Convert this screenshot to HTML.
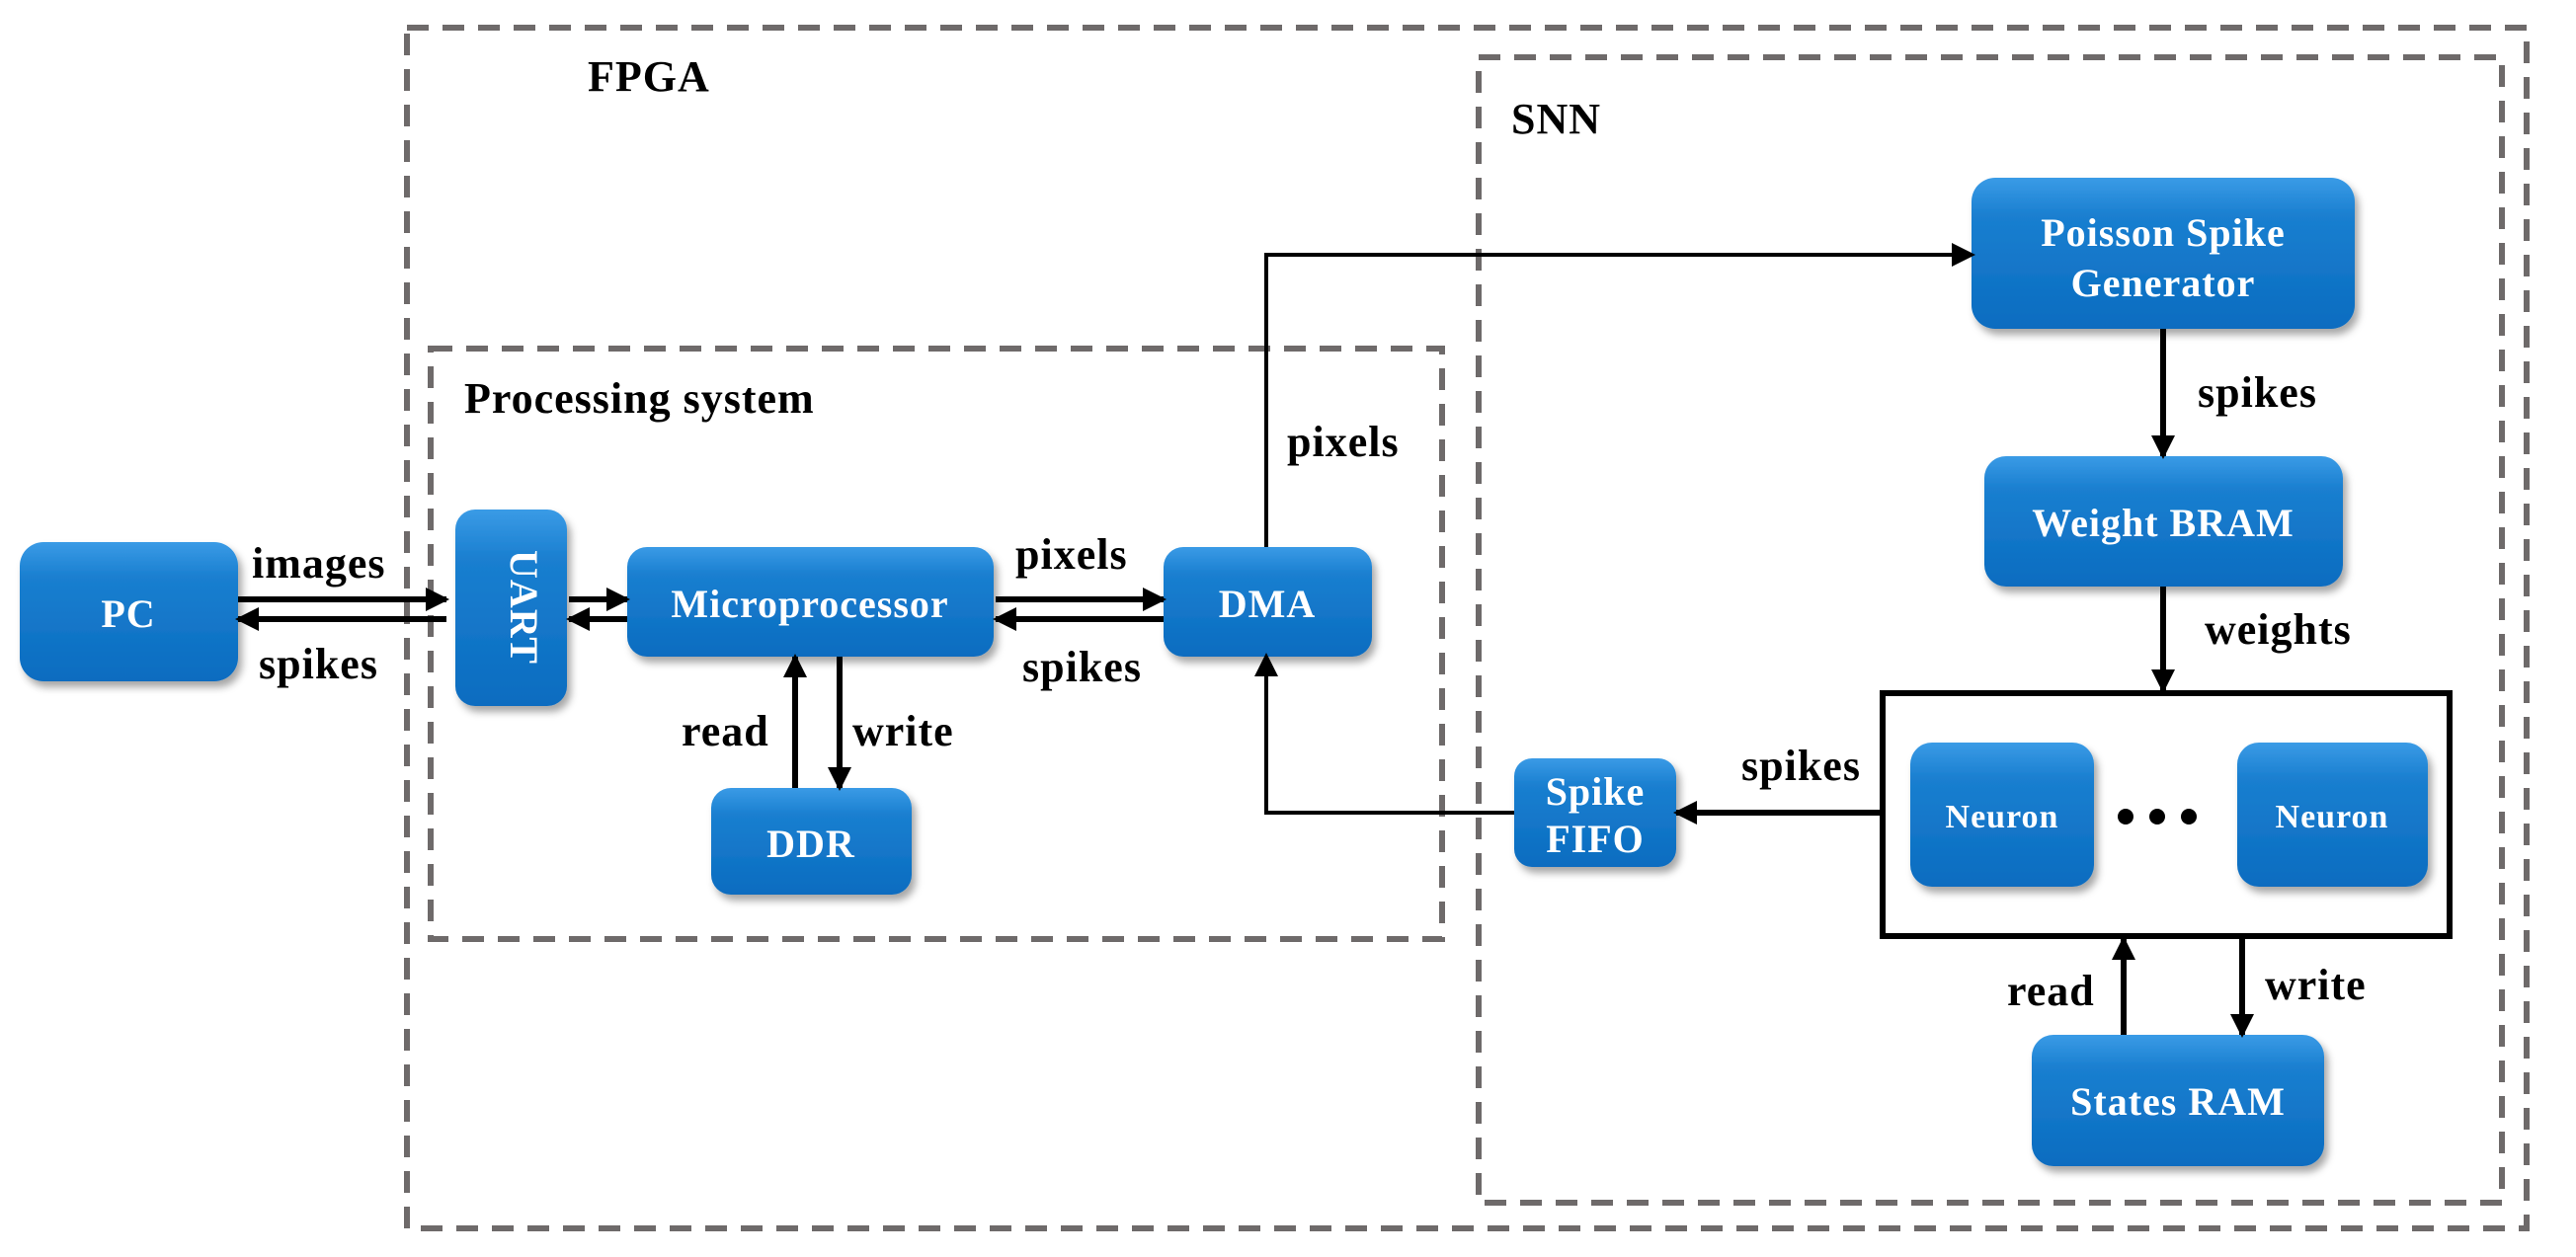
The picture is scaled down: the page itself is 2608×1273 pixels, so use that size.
<!DOCTYPE html>
<html><head><meta charset="utf-8"><style>
html,body{margin:0;padding:0;background:#fff}
svg{display:block}
text{font-family:"Liberation Serif",serif;font-weight:bold}
.t{fill:#000;font-size:44px;letter-spacing:1px}
.w{fill:#fff;font-size:40px;letter-spacing:1px}
</style></head><body>
<svg width="2608" height="1273" viewBox="0 0 2608 1273" xmlns="http://www.w3.org/2000/svg">
<defs>
<linearGradient id="g" x1="0" y1="0" x2="0" y2="1">
<stop offset="0" stop-color="#3a9be6"/><stop offset="0.25" stop-color="#1a7fd0"/><stop offset="1" stop-color="#0a6cc0"/>
</linearGradient>
<filter id="s" x="-10%" y="-10%" width="130%" height="130%"><feDropShadow dx="4" dy="6" stdDeviation="4" flood-color="#000" flood-opacity="0.35"/></filter>
<marker id="a" markerWidth="4" markerHeight="4" refX="3.5" refY="2" orient="auto" markerUnits="strokeWidth"><path d="M0,0 L4,2 L0,4 z" fill="#000"/></marker>
<marker id="b" markerWidth="6" markerHeight="6" refX="5" refY="3" orient="auto" markerUnits="strokeWidth"><path d="M0,0 L6,3 L0,6 z" fill="#000"/></marker>
</defs>
<g fill="none" stroke="#6e6a6a" stroke-width="6" stroke-dasharray="22 14">
<rect x="412" y="28" width="2146" height="1216"/>
<rect x="1497" y="58" width="1036" height="1160"/>
<rect x="436" y="353" width="1024" height="598"/>
</g>
<text class="t" x="595" y="92">FPGA</text>
<text class="t" x="1530" y="135">SNN</text>
<text class="t" x="470" y="418">Processing system</text>
<rect x="1906" y="702" width="574" height="246" fill="none" stroke="#000" stroke-width="6"/>
<g fill="url(#g)" filter="url(#s)">
<rect x="20" y="549" width="221" height="141" rx="24"/>
<rect x="461" y="516" width="113" height="199" rx="20"/>
<rect x="635" y="554" width="371" height="111" rx="20"/>
<rect x="1178" y="554" width="211" height="111" rx="20"/>
<rect x="720" y="798" width="203" height="108" rx="20"/>
<rect x="1996" y="180" width="388" height="153" rx="24"/>
<rect x="2009" y="462" width="363" height="132" rx="22"/>
<rect x="1934" y="752" width="186" height="146" rx="22"/>
<rect x="2265" y="752" width="193" height="146" rx="22"/>
<rect x="1533" y="768" width="164" height="110" rx="18"/>
<rect x="2057" y="1048" width="296" height="133" rx="22"/>
</g>
<g text-anchor="middle">
<text x="130" y="635" class="w">PC</text>
<text x="820" y="625" class="w">Microprocessor</text>
<text x="1283" y="625" class="w">DMA</text>
<text x="821" y="868" class="w">DDR</text>
<text x="2190" y="249" class="w">Poisson Spike</text>
<text x="2190" y="300" class="w">Generator</text>
<text x="2190" y="543" class="w">Weight BRAM</text>
<text x="2027" y="838" class="w" style="font-size:34px">Neuron</text>
<text x="2361" y="838" class="w" style="font-size:34px">Neuron</text>
<text x="1615" y="815" class="w">Spike</text>
<text x="1615" y="863" class="w">FIFO</text>
<text x="2205" y="1129" class="w">States RAM</text>
<text class="w" transform="translate(517,615) rotate(90)">UART</text>
</g>
<circle cx="2152" cy="827" r="8"/><circle cx="2184" cy="827" r="8"/><circle cx="2216" cy="827" r="8"/>
<g stroke="#000" stroke-width="6" fill="none" marker-end="url(#a)">
<line x1="241" y1="607" x2="452" y2="607"/>
<line x1="452" y1="627" x2="241" y2="627"/>
<line x1="576" y1="607" x2="635" y2="607"/>
<line x1="635" y1="627" x2="576" y2="627"/>
<line x1="1008" y1="607" x2="1178" y2="607"/>
<line x1="1178" y1="627" x2="1008" y2="627"/>
<line x1="805" y1="798" x2="805" y2="665"/>
<line x1="850" y1="665" x2="850" y2="798"/>
<line x1="2190" y1="333" x2="2190" y2="462"/>
<line x1="2190" y1="594" x2="2190" y2="699"/>
<line x1="1904" y1="823" x2="1697" y2="823"/>
<line x1="2150" y1="1048" x2="2150" y2="951"/>
<line x1="2270" y1="948" x2="2270" y2="1048"/>
</g>
<g stroke="#000" stroke-width="4" fill="none" marker-end="url(#b)">
<polyline points="1282,554 1282,258 1996,258"/>
<polyline points="1533,823 1282,823 1282,665"/>
</g>
<text class="t" x="255" y="585">images</text>
<text class="t" x="262" y="687">spikes</text>
<text class="t" x="1028" y="576">pixels</text>
<text class="t" x="1035" y="690">spikes</text>
<text class="t" x="690" y="755">read</text>
<text class="t" x="863" y="755">write</text>
<text class="t" x="1303" y="462">pixels</text>
<text class="t" x="2225" y="412">spikes</text>
<text class="t" x="2232" y="652">weights</text>
<text class="t" x="1763" y="790">spikes</text>
<text class="t" x="2032" y="1018">read</text>
<text class="t" x="2293" y="1012">write</text>
</svg>
</body></html>
